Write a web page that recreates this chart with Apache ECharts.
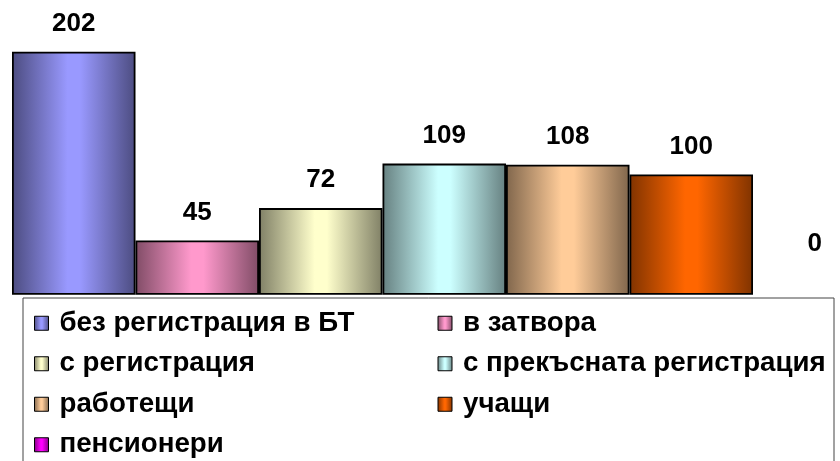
<!DOCTYPE html>
<html>
<head>
<meta charset="utf-8">
<script src="https://cdn.jsdelivr.net/npm/echarts@6/dist/echarts.min.js"></script>
<style>
html,body{margin:0;padding:0;background:#fff;}
#c{width:840px;height:461px;}
</style>
</head>
<body>
<div id="c"></div>
<script>
const categories = ['без регистрация в БТ','в затвора','с регистрация','с прекъсната регистрация','работещи','учащи','пенсионери'];
const values = [202, 45, 72, 109, 108, 100, 0];
const lightColors = ['#9999ff','#ff99cc','#ffffcc','#ccffff','#ffcc99','#ff6600','#ff00ff'];
const darkColors = ['#4c4c80','#804c66','#808066','#668080','#80664c','#803300','#800080'];

const legendFont = '"Liberation Sans", Arial, sans-serif';
const ctx = document.createElement('canvas').getContext('2d');
ctx.font = 'bold 22px ' + legendFont;
const w22 = ctx.measureText(categories[0]).width;
const legendSize = Math.round(22 * 295 / w22 * 10) / 10;

const chart = echarts.init(document.getElementById('c'));
const series = categories.map((name, i) => ({
  name: name,
  type: 'bar',
  barGap: '0%',
  barCategoryGap: '0%',
  data: [{
    value: values[i],
    label: { distance: values[i] === 0 ? 38 : 15 },
    itemStyle: values[i] === 0 ? { borderWidth: 0 } : {}
  }],
  itemStyle: {
    color: new echarts.graphic.LinearGradient(0, 0, 1, 0, [
      {offset: 0, color: darkColors[i]},
      {offset: 0.45, color: lightColors[i]},
      {offset: 0.55, color: lightColors[i]},
      {offset: 1, color: darkColors[i]}
    ]),
    borderColor: '#000',
    borderWidth: 1.8
  },
  label: {
    show: true,
    position: 'top',
    color: '#000',
    fontFamily: '"Liberation Sans", Arial, sans-serif',
    fontWeight: 'bold',
    fontSize: 26
  }
}));

chart.setOption({
  animation: false,
  grid: { left: 12, width: 864.5, top: 6, bottom: 166.3, outerBoundsMode: 'none' },
  xAxis: { type: 'category', data: [''], show: false },
  yAxis: { type: 'value', min: 0, max: 240, show: false },
  legend: {
    left: 23,
    top: 298,
    orient: 'horizontal',
    width: 820,
    padding: [10, 3, 20, 11],
    borderColor: '#444',
    borderWidth: 1,
    icon: 'rect',
    itemWidth: 14,
    itemHeight: 14,
    itemGap: 10,
    itemStyle: { borderColor: '#000', borderWidth: 1 },
    textStyle: {
      fontFamily: legendFont,
      fontWeight: 'bold',
      fontSize: legendSize,
      color: '#000',
      width: 368,
      lineHeight: 30.5,
      padding: [0, 0, 0, 6]
    },
    data: categories
  },
  series: series
});
</script>
</body>
</html>
